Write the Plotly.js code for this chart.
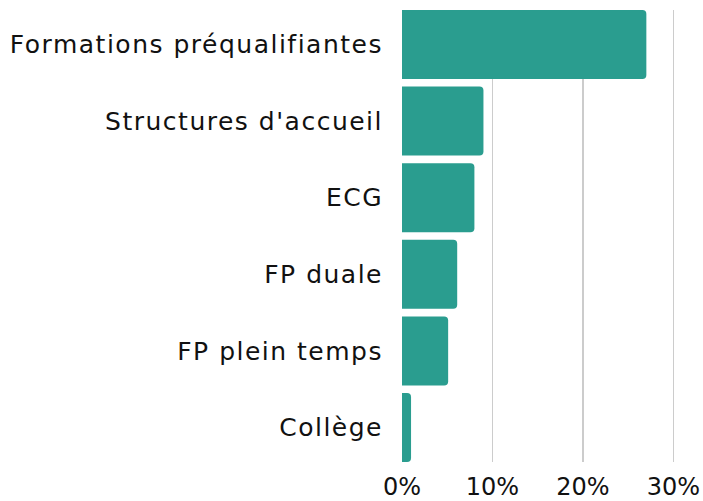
<!DOCTYPE html>
<html><head><meta charset="utf-8">
<script src="https://cdn.plot.ly/plotly-3.0.1.min.js"></script>
<style>html,body{margin:0;padding:0;background:#fff}#c{width:703px;height:501px}
#c .ytick text{letter-spacing:1.5px}</style>
</head><body><div id="c"></div>
<script>
const categories = ["Formations préqualifiantes","Structures d'accueil","ECG","FP duale","FP plein temps","Collège"];
const values = [27.0, 9.0, 8.0, 6.1, 5.1, 1.0];
const tickVals = [0, 10, 20, 30];
const tickText = ["0%", "10%", "20%", "30%"];

const font = "'DejaVu Sans', sans-serif";
Plotly.newPlot('c', [{
  type: 'bar', orientation: 'h',
  y: categories, x: values,
  marker: {color: '#2a9d8f', cornerradius: 4},
  width: 0.9,
  hoverinfo: 'none'
}], {
  width: 703, height: 501,
  margin: {l: 402, r: 0, t: 10, b: 39},
  paper_bgcolor: '#fff', plot_bgcolor: '#fff',
  showlegend: false,
  font: {family: font, size: 25, color: '#111'},
  xaxis: {
    range: [0, 33.26], tickvals: tickVals, ticktext: tickText,
    showgrid: true, gridcolor: '#cccccc', gridwidth: 1.5,
    zeroline: false, showline: false,
    ticks: 'outside', ticklen: 3, tickcolor: 'rgba(0,0,0,0)',
    tickfont: {family: font, size: 24, color: '#111'}
  },
  yaxis: {
    type: 'category', autorange: false, range: [5.45, -0.45],
    showgrid: false, zeroline: false, showline: false,
    ticks: 'outside', ticklen: 13, tickcolor: 'rgba(0,0,0,0)',
    tickfont: {family: font, size: 25, color: '#111'}
  }
}, {displayModeBar: false, staticPlot: true});
</script></body></html>
